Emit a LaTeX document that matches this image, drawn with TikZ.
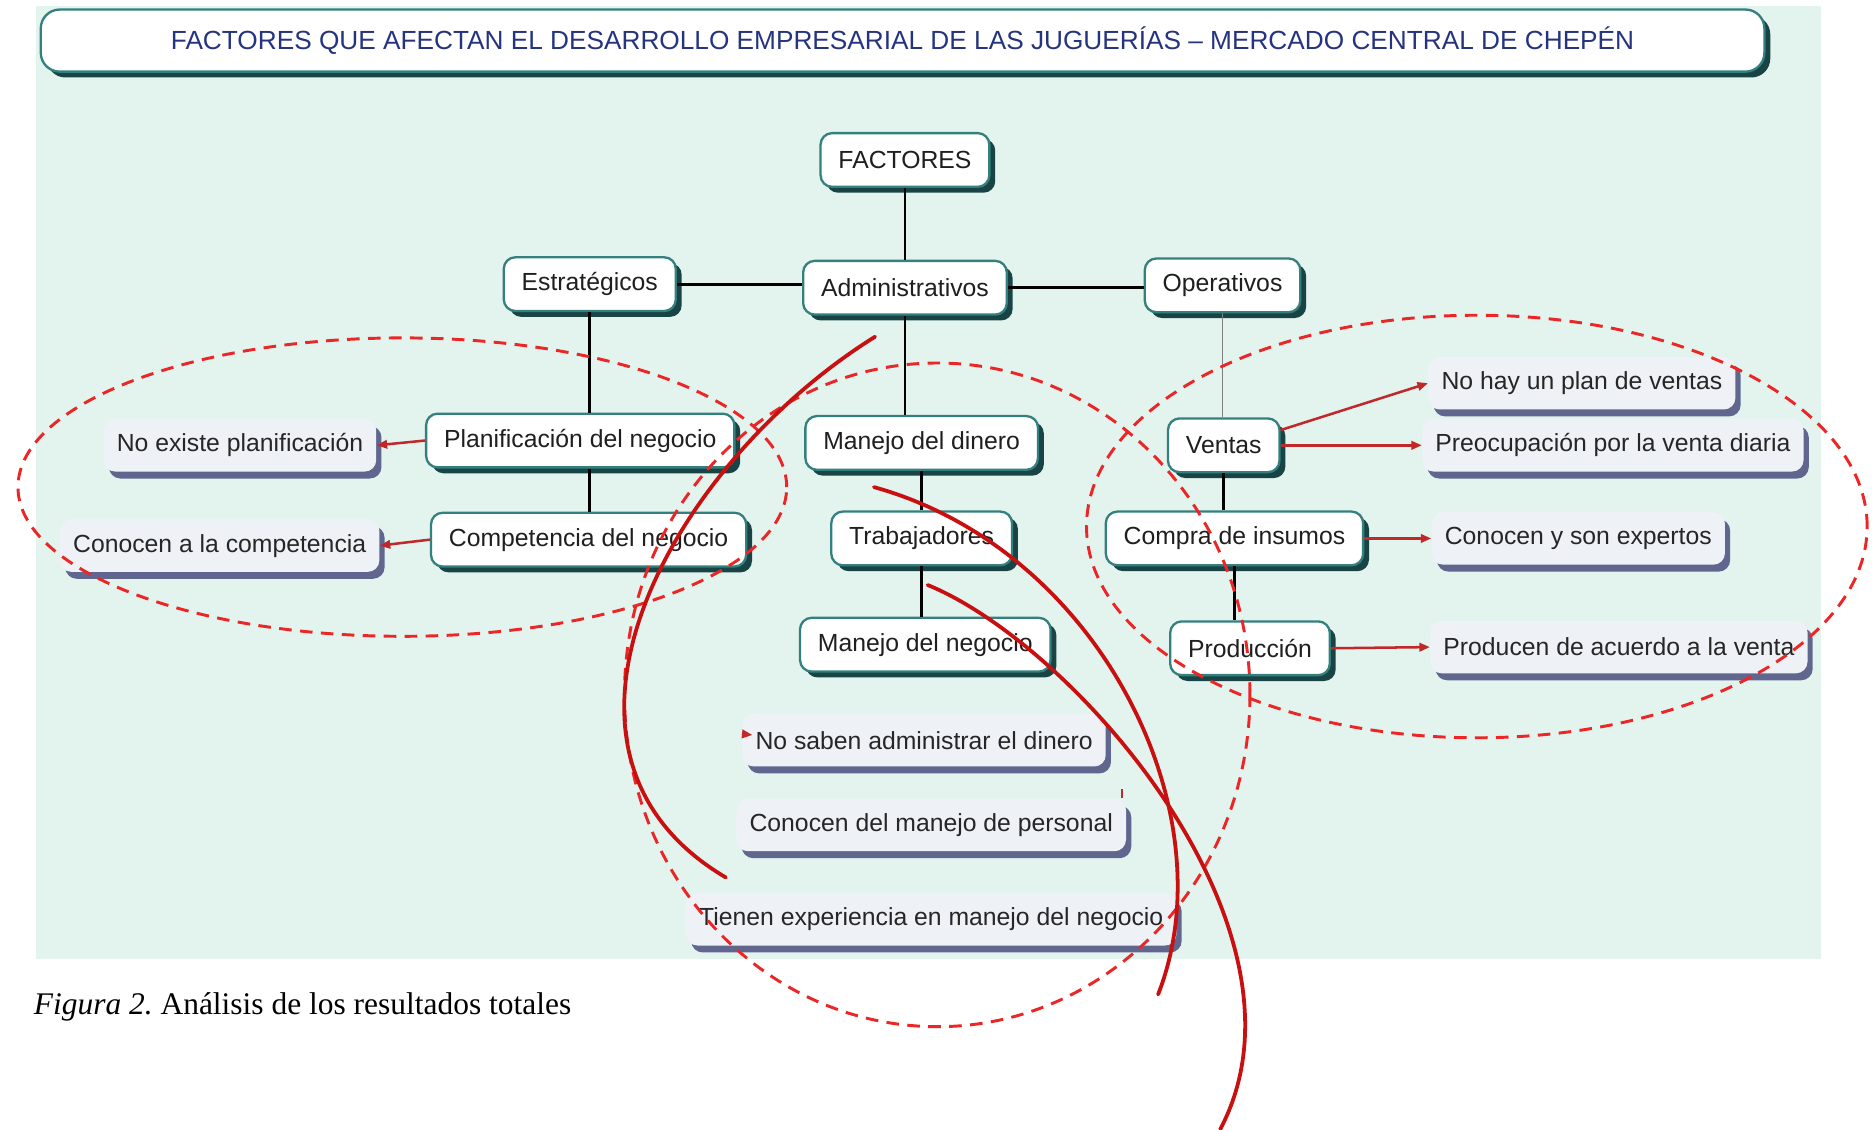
\documentclass[tikz,border=0pt]{standalone}
\usepackage{fontspec}
\setmainfont{Liberation Serif}
\newfontfamily\mapfont{Liberation Sans}
\usetikzlibrary{shadows,arrows.meta}

\definecolor{panelbg}{RGB}{227,243,238}
\definecolor{boxline}{RGB}{52,128,126}
\definecolor{boxshade}{RGB}{24,68,70}
\definecolor{leaffill}{RGB}{238,242,247}
\definecolor{leafshade}{RGB}{96,102,142}
\definecolor{titleblue}{RGB}{38,52,128}
\definecolor{markred}{RGB}{236,38,38}
\definecolor{arcred}{RGB}{200,16,16}
\definecolor{linkred}{RGB}{192,40,42}

\tikzset{
  box/.style={draw=boxline, line width=1.1pt, rounded corners=5.5pt, fill=white,
    inner xsep=0.3cm, minimum height=0.9cm, text=black!88,
    font=\mapfont\fontsize{11.8}{14}\selectfont,
    drop shadow={shadow xshift=2.8pt, shadow yshift=-2.8pt, fill=boxshade, opacity=1}},
  leaf/.style={fill=leaffill, rounded corners=5.5pt, inner xsep=0.22cm,
    minimum height=0.88cm, text=black!85,
    font=\mapfont\fontsize{11.8}{14}\selectfont,
    drop shadow={shadow xshift=2.5pt, shadow yshift=-3.3pt, fill=leafshade, opacity=1}},
  head/.style={box, rounded corners=9pt, minimum width=28.88cm, minimum height=1.04cm,
    text=titleblue, font=\mapfont\fontsize{12.5}{15}\selectfont},
  link/.style={draw=black, line width=1.3pt},
  tolink/.style={draw=linkred, line width=1.2pt, -{Triangle[length=5pt,width=4pt]}},
  group/.style={draw=markred, line width=1.4pt, dash pattern=on 6pt off 4pt},
  stroke/.style={draw=arcred, line width=1.8pt, line cap=round}
}

\begin{document}
\begin{tikzpicture}[x=0.02cm, y=-0.02cm]
  \useasboundingbox (0,0) rectangle (1568,946);
  \fill [panelbg] (30,5) rectangle (1525,803);

  \node [head] (title) at (756,34) {FACTORES QUE AFECTAN EL DESARROLLO EMPRESARIAL DE LAS JUGUERÍAS – MERCADO CENTRAL DE CHEPÉN};

  % main boxes
  \node [box] (fact) at (758,134) {FACTORES};
  \node [box] (estr) at (494,238) {Estratégicos};
  \node [box] (adm) at (758,241) {Administrativos};
  \node [box] (oper) at (1024,239) {Operativos};
  \node [box] (plan) at (486,369) {Planificación del negocio};
  \node [box] (comp) at (493,452) {Competencia del negocio};
  \node [box] (dinero) at (772,371) {Manejo del dinero};
  \node [box] (trab) at (772,451) {Trabajadores};
  \node [box] (neg) at (775,540) {Manejo del negocio};
  \node [box] (ventas) at (1025,373) {Ventas};
  \node [box] (compra) at (1034,451) {Compra de insumos};
  \node [box] (prod) at (1047,543) {Producción};

  % results
  \node [leaf] (noplan) at (201,373) {No existe planificación};
  \node [leaf] (concomp) at (184,457) {Conocen a la competencia};
  \node [leaf] (nosaben) at (774,620) {No saben administrar el dinero};
  \node [leaf] (conpers) at (780,691) {Conocen del manejo de personal};
  \node [leaf] (tienen) at (780,770) {Tienen experiencia en manejo del negocio};
  \node [leaf] (noventas) at (1325,321) {No hay un plan de ventas};
  \node [leaf] (preoc) at (1351,373) {Preocupación por la venta diaria};
  \node [leaf] (conexp) at (1322,451) {Conocen y son expertos};
  \node [leaf] (producen) at (1356,542) {Producen de acuerdo a la venta};

  \draw [link] (fact.south) -- (adm.north);
  \draw [link] (estr.east) -- (estr.east -| adm.west);
  \draw [link] (adm.east) -- (adm.east -| oper.west);
  \draw [link] (estr.south) -- (estr.south |- plan.north);
  \draw [link] (plan.south -| estr.south) -- (comp.north -| estr.south);
  \draw [link] (adm.south) -- (adm.south |- dinero.north);
  \draw [link] (trab.north |- dinero.south) -- (trab.north);
  \draw [link] (trab.south) -- (trab.south |- neg.north);
  \draw [link, draw=gray, line width=0.8pt] (oper.south) -- (oper.south |- ventas.north);
  \draw [link] (ventas.south) -- (ventas.south |- compra.north);
  \draw [link] (compra.south) -- (compra.south |- prod.north);

  \draw [tolink] (plan.west) -- (noplan.east);
  \draw [tolink] (comp.west) -- (concomp.east);
  \draw [tolink] (ventas.15) -- (noventas.west);
  \draw [tolink] (ventas.east) -- (preoc.west);
  \draw [tolink] (compra.east) -- (conexp.west);
  \draw [tolink] (prod.east) -- (producen.west);
  \draw [tolink] ([yshift=3pt]nosaben.west) -- ++(5pt,-0.5pt);
  \draw [linkred, line width=1.2pt] ([xshift=-2pt]conpers.north east) -- ++(0,4.5pt);

  % groups
  \draw [group] (337,408) ellipse [x radius=6.44cm, y radius=2.5cm];
  \draw [group] (785,582) ellipse [x radius=5.24cm, y radius=5.56cm];
  \draw [group] (1237,441) ellipse [x radius=6.54cm, y radius=3.54cm];

  \draw [stroke] (733,282) .. controls (560,390) and (430,630) .. (608,735);
  \draw [stroke] (732,408) .. controls (920,460) and (1030,680) .. (970,833);
  \draw [stroke] (777,490) .. controls (900,540) and (1110,780) .. (1022,946);

  \node [anchor=base west, inner sep=0, font=\fontsize{15}{18}\selectfont] (caption) at (28,850) {\textit{Figura 2.}\ Análisis de los resultados totales};
\end{tikzpicture}
\end{document}
